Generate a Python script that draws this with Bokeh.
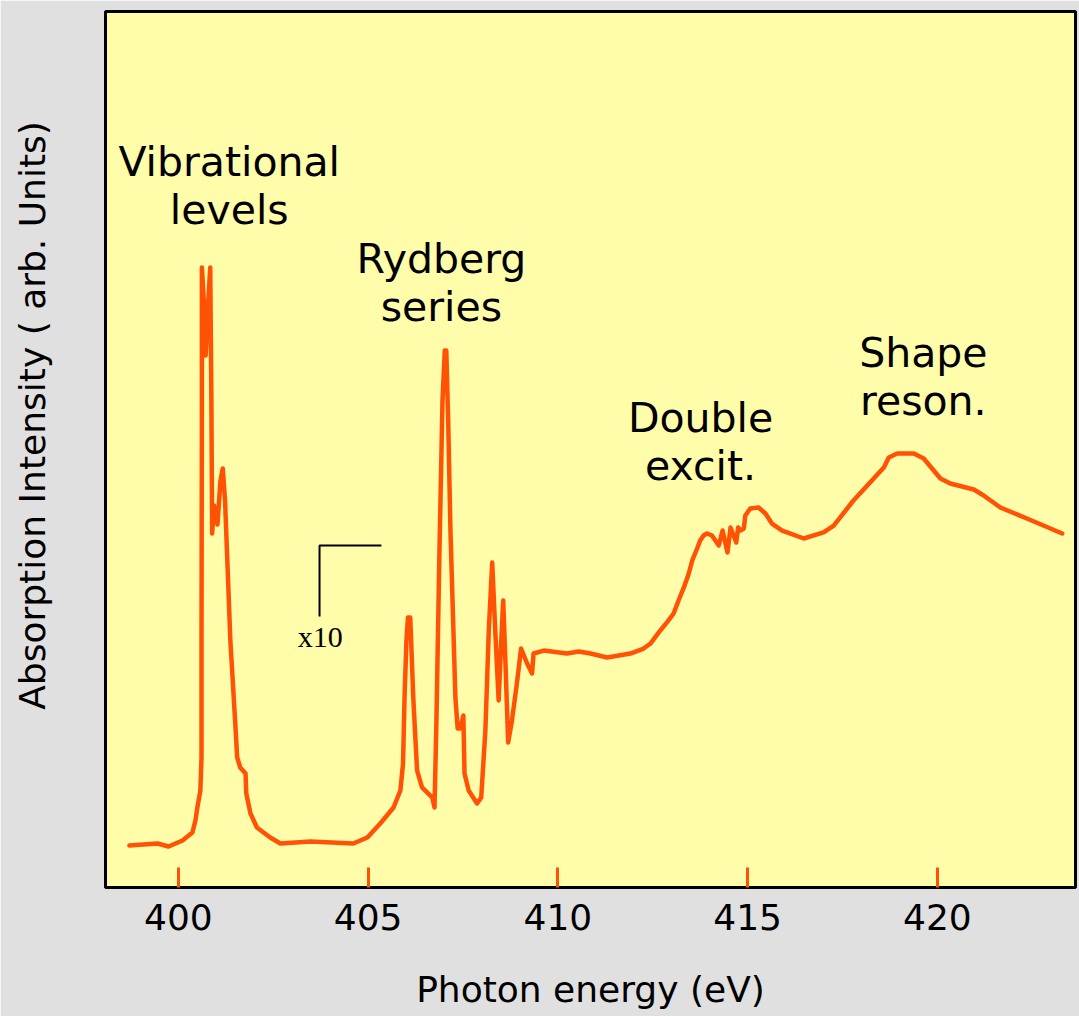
from bokeh.plotting import figure
from bokeh.models import Range1d, FixedTicker
from bokeh.core.properties import value
from bokeh.embed import file_html
from bokeh.resources import INLINE

# ---- data ----
energy = [398.71, 399.45, 399.74, 400.11, 400.37, 400.45, 400.50, 400.58, 400.61, 400.61,
          400.62, 400.62, 400.67, 400.72, 400.79, 400.84, 400.87, 400.89, 400.94, 400.99,
          401.03, 401.11, 401.17, 401.23, 401.28, 401.37, 401.50, 401.55, 401.63, 401.77,
          401.79, 401.90, 402.07, 402.42, 402.69, 403.48, 404.61, 404.98, 405.32, 405.67,
          405.85, 405.92, 405.96, 406.01, 406.05, 406.11, 406.19, 406.29, 406.42, 406.64,
          406.69, 406.75, 406.80, 406.88, 406.96, 407.02, 407.06, 407.11, 407.17, 407.30,
          407.36, 407.43, 407.51, 407.54, 407.65, 407.87, 407.98, 408.09, 408.18, 408.27,
          408.35, 408.44, 408.50, 408.56, 408.62, 408.69, 408.79, 408.92, 409.03, 409.19,
          409.32, 409.36, 409.63, 410.24, 410.55, 410.86, 411.30, 411.91, 412.26, 412.44,
          412.70, 412.88, 413.05, 413.18, 413.32, 413.45, 413.54, 413.67, 413.75, 413.84,
          413.93, 414.06, 414.24, 414.34, 414.41, 414.47,
          414.55, 414.70, 414.75, 414.81, 414.90, 414.94, 415.07, 415.29, 415.47, 415.64,
          415.91, 416.13, 416.48, 417.00, 417.27, 417.79, 418.59, 418.72, 418.94, 419.38,
          419.64, 420.08, 420.34, 420.96, 421.22, 421.66, 422.36, 423.29]
intensity = [4.79, 5.02, 4.68, 5.37, 6.28, 7.65, 9.13, 11.07, 14.84, 28.20,
             55.59, 70.78, 67.01, 60.73, 67.01, 70.78, 55.59, 40.41, 43.61, 41.89,
             41.44, 46.46, 47.83, 44.18, 38.47, 28.20, 18.72, 14.84, 13.70, 13.01,
             10.73, 8.45, 6.85, 5.71, 5.02, 5.25, 5.02, 5.71, 7.31, 9.13,
             11.07, 14.16, 21.69, 28.20, 30.82, 30.82, 21.69, 13.36, 11.42, 10.50,
             10.27, 9.13, 19.06, 38.47, 55.59, 61.30, 61.30, 53.31, 40.75, 21.69,
             18.15, 18.15, 19.63, 13.01, 11.07, 9.59, 10.27, 17.92, 29.34, 37.10,
             29.34, 21.35, 27.40, 32.76, 25.57, 16.55, 19.06, 23.29, 27.28, 25.57,
             24.43, 26.71, 27.05, 26.71, 26.94, 26.71, 26.26, 26.71, 27.28, 27.85,
             29.34, 30.29, 31.28, 32.76, 34.25, 35.84, 37.33, 38.70, 39.61, 40.18,
             40.41, 40.18, 39.04, 40.75, 39.38, 38.24,
             41.10, 39.38, 41.10, 40.75, 40.98, 42.47, 43.26, 43.38, 42.69, 41.55,
             40.75, 40.41, 39.84, 40.53, 41.32, 44.18, 47.95, 49.09, 49.54, 49.54,
             48.97, 46.69, 46.12, 45.43, 44.75, 43.38, 42.12, 40.41]

x_ticks = [400, 405, 410, 415, 420]

y_title = "Absorption Intensity ( arb. Units)"
y_title_pos = 53.88

ann_text = ["Vibrational", "levels", "Rydberg", "series", "Double", "excit.", "Shape", "reson."]
ann_x = [401.34, 401.34, 406.93, 406.93, 413.76, 413.76, 419.63, 419.63]
ann_y = [82.87, 77.39, 71.80, 66.32, 53.65, 48.17, 60.96, 55.48]

scale_mark_x = [405.35, 403.72, 403.72]
scale_mark_y = [39.04, 39.04, 30.94]
scale_text = "x10"
scale_text_x = 403.74
scale_text_y = 28.70

ORANGE = "#ff5205"

p = figure(width=1079, height=1016, output_backend="svg", toolbar_location=None,
           x_range=Range1d(398.08, 423.64), y_range=Range1d(0, 100),
           min_border_left=105, min_border_right=4, min_border_top=11, min_border_bottom=129)
p.border_fill_color = "#e0e0e0"
p.background_fill_color = "#fffcaa"
p.outline_line_color = "black"
p.outline_line_width = 3
p.grid.visible = False

xa = p.xaxis[0]
xa.ticker = FixedTicker(ticks=x_ticks)
xa.minor_tick_line_color = None
xa.major_tick_in = 20
xa.major_tick_out = 0
xa.major_tick_line_color = ORANGE
xa.major_tick_line_width = 3
xa.axis_line_color = None
xa.major_label_text_font = "DejaVu Sans"
xa.major_label_text_font_size = "36px"
xa.major_label_text_color = "black"
xa.major_label_standoff = 16
xa.axis_label = "Photon energy (eV)"
xa.axis_label_text_font = "DejaVu Sans"
xa.axis_label_text_font_size = "36px"
xa.axis_label_text_font_style = "normal"
xa.axis_label_text_color = "black"
xa.axis_label_standoff = 36

# y title drawn as the single (rotated) label of the left axis, so it can sit off-centre
ya = p.yaxis[0]
ya.ticker = FixedTicker(ticks=[y_title_pos])
ya.major_label_overrides = {y_title_pos: y_title}
ya.major_label_orientation = "vertical"
ya.minor_tick_line_color = None
ya.major_tick_line_color = None
ya.major_tick_in = 0
ya.major_tick_out = 0
ya.axis_line_color = None
ya.major_label_text_font = "DejaVu Sans"
ya.major_label_text_font_size = "36px"
ya.major_label_text_color = "black"
ya.major_label_standoff = 52

p.line(energy, intensity, line_color=ORANGE, line_width=4.5, line_join="round", line_cap="round")

p.text(ann_x, ann_y, text=ann_text, text_font=value("DejaVu Sans"), text_font_size="41px",
       text_align="center", text_baseline="alphabetic", text_color="black")

p.line(scale_mark_x, scale_mark_y, line_color="black", line_width=2)
p.text([scale_text_x], [scale_text_y], text=[scale_text], text_font=value("Liberation Serif"),
       text_font_size="30px", text_align="center", text_baseline="alphabetic", text_color="black")

open("out.html", "w").write(file_html(p, INLINE))
